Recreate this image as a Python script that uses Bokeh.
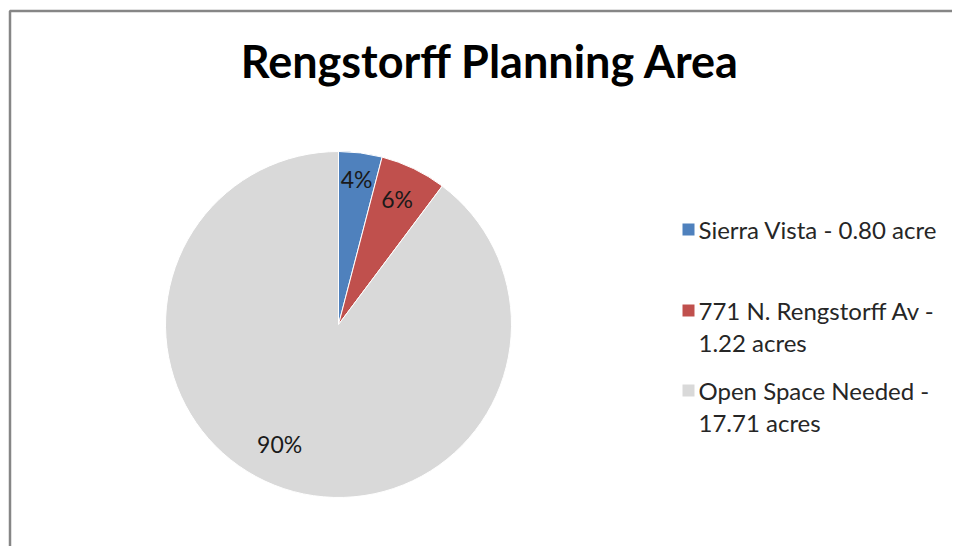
import math
from bokeh.plotting import figure
from bokeh.models import Range1d, ColumnDataSource
from bokeh.core.properties import value
from bokeh.embed import file_html
from bokeh.resources import INLINE

# ---- data ----
TITLE = "Rengstorff Planning Area"
categories = ["Sierra Vista", "771 N. Rengstorff Av", "Open Space Needed"]
acres = [0.80, 1.22, 17.71]
legend_lines = [
    ["Sierra Vista - 0.80 acre"],
    ["771 N. Rengstorff Av -", "1.22 acres"],
    ["Open Space Needed -", "17.71 acres"],
]
colors = ["#4F81BD", "#C0504D", "#D9D9D9"]

# ---- layout ----
W, H = 952, 546
FONT = "Lato"


def Y(py):
    # convert picture pixel y (from top) into data y (from bottom)
    return H - py


p = figure(width=W, height=H, x_range=Range1d(0, W), y_range=Range1d(0, H),
           output_backend="svg", toolbar_location=None, min_border=0)
p.axis.visible = False
p.grid.visible = False
p.outline_line_color = None
p.background_fill_color = "white"
p.border_fill_color = "white"

# chart border (left + top visible)
p.line(x=[9.5, 9.5, W], y=[-5, Y(10.5), Y(10.5)], line_color="#868686", line_width=2.5)

# title
p.text(x=[490], y=[Y(60)], text=[TITLE], text_align="center", text_baseline="middle",
       text_font=value(FONT), text_font_style="bold", text_font_size="45px", text_color="#000000")

# pie
cx, cy, r = 338, Y(324), 173
total = sum(acres)
starts, ends, mids = [], [], []
cum = 0.0
for v in acres:
    s = math.pi / 2 - 2 * math.pi * cum / total
    cum += v
    e = math.pi / 2 - 2 * math.pi * cum / total
    starts.append(s)
    ends.append(e)
    mids.append((s + e) / 2)

src = ColumnDataSource(dict(start=starts, end=ends, color=colors))
p.wedge(x=cx, y=cy, radius=r, start_angle="start", end_angle="end", direction="clock",
        fill_color="color", line_color="white", line_width=1, source=src)

# percentage labels
label_nudge = [(0, 5), (-3, -2), (-14, 15)]
lx, ly, lt = [], [], []
for m, v, (nx, ny) in zip(mids, acres, label_nudge):
    lx.append(cx + 0.82 * r * math.cos(m) + nx)
    ly.append(cy + 0.82 * r * math.sin(m) + ny)
    lt.append(f"{round(100 * v / total)}%")
p.text(x=lx, y=ly, text=lt, text_align="center", text_baseline="middle",
       text_font=value(FONT), text_font_size="23px", text_color="#1a1a1a")

# legend
item_centers = [229, 310, 390]
line_gap = 32
for i, (lines, col) in enumerate(zip(legend_lines, colors)):
    c = item_centers[i]
    p.rect(x=[688], y=[Y(c)], width=12, height=12, fill_color=col, line_color=None)
    xs = [698] * len(lines)
    ys = [Y(c + k * line_gap) for k in range(len(lines))]
    p.text(x=xs, y=ys, text=lines, text_align="left", text_baseline="middle",
           text_font=value(FONT), text_font_size="24px", text_color="#262626")

open("out.html", "w").write(file_html(p, INLINE))
